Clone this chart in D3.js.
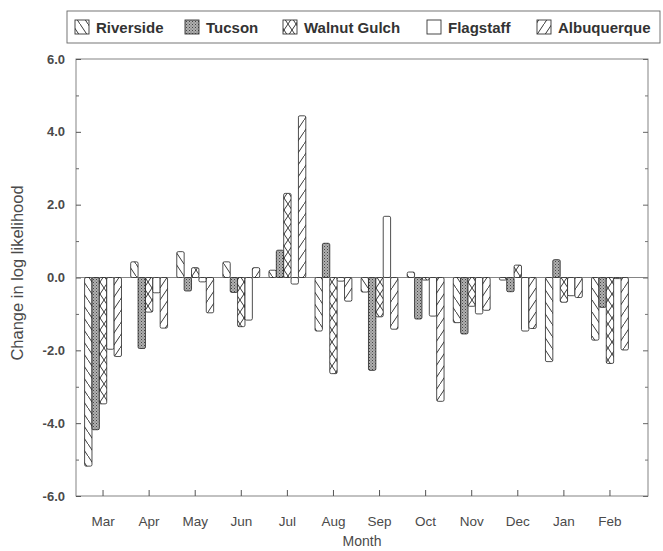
<!DOCTYPE html>
<html><head><meta charset="utf-8">
<script src="https://cdn.jsdelivr.net/npm/d3@7"></script>
<style>body{margin:0;background:#fff}svg{display:block}</style>
</head><body>
<script>
const months = ["Mar","Apr","May","Jun","Jul","Aug","Sep","Oct","Nov","Dec","Jan","Feb"];
const seriesNames = ["Riverside","Tucson","Walnut Gulch","Flagstaff","Albuquerque"];
const riverside   = [-5.18, 0.43, 0.71, 0.43, 0.20, -1.47, -0.40, 0.15, -1.24, -0.07, -2.31, -1.72];
const tucson      = [-4.18, -1.95, -0.37, -0.41, 0.75, 0.94, -2.55, -1.14, -1.55, -0.39, 0.49, -0.82];
const walnutGulch = [-3.47, -0.95, 0.27, -1.35, 2.31, -2.64, -1.08, -0.07, -0.79, 0.34, -0.68, -2.36];
const flagstaff   = [-1.97, -0.42, -0.12, -1.17, -0.18, -0.10, 1.68, -1.06, -1.00, -1.47, -0.50, -0.03];
const albuquerque = [-2.17, -1.39, -0.97, 0.27, 4.44, -0.65, -1.42, -3.40, -0.90, -1.40, -0.55, -1.99];
const yTickValues = [-6, -4, -2, 0, 2, 4, 6];
const yMinorValues = [-5, -3, -1, 1, 3, 5];

const seriesValues = [riverside, tucson, walnutGulch, flagstaff, albuquerque];
const patterns = ["pRiv","pTuc","pWal",null,"pAlb"];

const W = 663, H = 551;
const svg = d3.select("body").append("svg").attr("width", W).attr("height", H);
const defs = svg.append("defs");

function hatch(id, lines) {
  const p = defs.append("pattern").attr("id", id).attr("patternUnits","userSpaceOnUse")
    .attr("width", 8).attr("height", 12);
  p.append("rect").attr("width",8).attr("height",12).attr("fill","#fff");
  lines.forEach(l => p.append("line").attr("x1",l[0]).attr("y1",l[1]).attr("x2",l[2]).attr("y2",l[3])
    .attr("stroke","#222").attr("stroke-width",0.9));
}
hatch("pRiv", [[0,0,8,12],[-8,-12,0,0],[8,12,16,24]]);
hatch("pAlb", [[0,12,8,0],[-8,24,0,12],[8,0,16,-12]]);
hatch("pWal", [[0,0,8,12],[0,12,8,0]]);
{
  const p = defs.append("pattern").attr("id","pTuc").attr("patternUnits","userSpaceOnUse")
    .attr("width",3).attr("height",3);
  p.append("rect").attr("width",3).attr("height",3).attr("fill","#b0b0b0");
  p.append("rect").attr("x",0).attr("y",0).attr("width",1).attr("height",1).attr("fill","#444");
  p.append("rect").attr("x",1.5).attr("y",1.5).attr("width",1).attr("height",1).attr("fill","#666");
}

const frame = {l:76, r:648, t:59, b:496};
const y = d3.scaleLinear().domain([-6, 6]).range([frame.b, frame.t]);
const x = d3.scaleBand().domain(months).range([80, 633]).paddingInner(0.2).paddingOuter(0.1);
const xs = d3.scaleBand().domain(seriesNames).range([0, x.bandwidth()]);

const txt = "#4a4a4a";
const font = "Liberation Sans, Arial, sans-serif";

// frame
svg.append("rect").attr("x",frame.l).attr("y",frame.t).attr("width",frame.r-frame.l).attr("height",frame.b-frame.t)
  .attr("fill","none").attr("stroke","#777").attr("stroke-width",0.9);

// y axis ticks (left)
svg.append("g").attr("transform",`translate(${frame.l},0)`)
  .call(d3.axisRight(y).tickValues(yTickValues).tickSize(5).tickFormat(""))
  .call(g => g.select(".domain").remove()).selectAll("line").attr("stroke","#555");
svg.append("g").attr("transform",`translate(${frame.l},0)`)
  .call(d3.axisRight(y).tickValues(yMinorValues).tickSize(3).tickFormat(""))
  .call(g => g.select(".domain").remove()).selectAll("line").attr("stroke","#666");
// right axis ticks
svg.append("g").attr("transform",`translate(${frame.r},0)`)
  .call(d3.axisLeft(y).tickValues(yTickValues).tickSize(5).tickFormat(""))
  .call(g => g.select(".domain").remove()).selectAll("line").attr("stroke","#666");
svg.append("g").attr("transform",`translate(${frame.r},0)`)
  .call(d3.axisLeft(y).tickValues(yMinorValues).tickSize(3).tickFormat(""))
  .call(g => g.select(".domain").remove()).selectAll("line").attr("stroke","#777");
// y labels
svg.append("g").selectAll("text").data(yTickValues).join("text")
  .attr("x", 65).attr("y", d => y(d)).attr("dy","0.35em").attr("text-anchor","end")
  .attr("font-family",font).attr("font-size",13).attr("font-weight","bold").attr("fill",txt)
  .text(d => d.toFixed(1));

// x axis ticks
svg.append("g").attr("transform",`translate(0,${frame.b})`)
  .call(d3.axisTop(x).tickSize(6).tickFormat(""))
  .call(g => g.select(".domain").remove()).selectAll("line").attr("stroke","#555");
svg.append("g").selectAll("text").data(months).join("text")
  .attr("x", d => x(d) + x.bandwidth()/2).attr("y", 521).attr("dy","0.35em").attr("text-anchor","middle")
  .attr("font-family",font).attr("font-size",13.5).attr("fill",txt).text(d => d);

// zero line
svg.append("line").attr("x1",frame.l).attr("x2",frame.r).attr("y1",y(0)).attr("y2",y(0))
  .attr("stroke","#777").attr("stroke-width",0.9);

// bars
seriesNames.forEach((s, si) => {
  const vals = seriesValues[si];
  svg.append("g").selectAll("rect").data(months).join("rect")
    .attr("x", (m) => x(m) + xs(s))
    .attr("width", xs.bandwidth())
    .attr("y", (m, i) => y(Math.max(0, vals[i])))
    .attr("height", (m, i) => Math.abs(y(vals[i]) - y(0)))
    .attr("rx", 1.5)
    .attr("fill", patterns[si] ? `url(#${patterns[si]})` : "#fff")
    .attr("stroke", "#222").attr("stroke-width", 0.8);
});

// axis titles
svg.append("text").attr("x", 362).attr("y", 546).attr("text-anchor","middle")
  .attr("font-family",font).attr("font-size",14).attr("fill",txt).text("Month");
svg.append("text").attr("transform","translate(23,273) rotate(-90)").attr("text-anchor","middle")
  .attr("font-family",font).attr("font-size",16.5).attr("fill",txt).text("Change in log likelihood");

// legend
const legend = svg.append("g");
legend.append("rect").attr("x",67).attr("y",11).attr("width",593).attr("height",32)
  .attr("fill","#fff").attr("stroke","#666").attr("stroke-width",0.9);
const legendX = [75, 185, 283, 427, 537];
seriesNames.forEach((s, si) => {
  legend.append("rect").attr("x", legendX[si]).attr("y", 20).attr("width", 14).attr("height", 14)
    .attr("fill", patterns[si] ? `url(#${patterns[si]})` : "#fff")
    .attr("stroke","#333").attr("stroke-width",0.9);
  legend.append("text").attr("x", legendX[si] + 21).attr("y", 28).attr("dy","0.35em")
    .attr("font-family",font).attr("font-size",15).attr("font-weight","bold").attr("fill","#333").text(s);
});
</script>
</body></html>
